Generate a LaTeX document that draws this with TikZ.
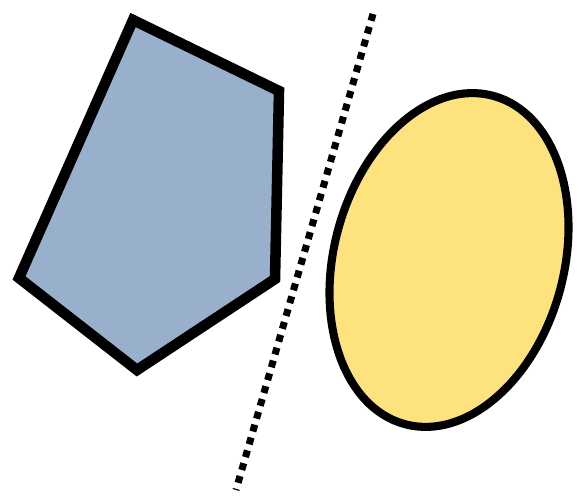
\documentclass[tikz,border=0pt]{standalone}
\usetikzlibrary{calc}

\definecolor{pentblue}{RGB}{152,176,204}
\definecolor{ovalyellow}{RGB}{254,226,126}

\begin{document}
\begin{tikzpicture}[
    line join=miter,
    outline/.style={draw=black, line width=6pt},
    sep/.style={line width=4pt, dash pattern=on 4pt off 3.6pt} % 分隔虚线
]
\useasboundingbox (0,0) rectangle (11.58,9.98);

% ========== 左侧：五边形 ==========
\coordinate (p1) at (2.66,9.58);
\coordinate (p2) at (5.58,8.16);
\coordinate (p3) at (5.50,4.40);
\coordinate (p4) at (2.74,2.58);
\coordinate (p5) at (0.38,4.42);
\draw[outline, fill=pentblue] (p1) -- (p2) -- (p3) -- (p4) -- (p5) -- cycle;

% ========== 中间：分隔线 ==========
\coordinate (top) at (7.46,9.70);
\coordinate (bot) at (4.72,0.18);
\draw[sep] (top) -- (bot);

% ========== 右侧：椭圆 ==========
\draw[outline, line width=4.6pt, fill=ovalyellow, rotate around={-15:(8.98,4.78)}]
    (8.98,4.78) ellipse [x radius=2.30, y radius=3.40];

\end{tikzpicture}
\end{document}
